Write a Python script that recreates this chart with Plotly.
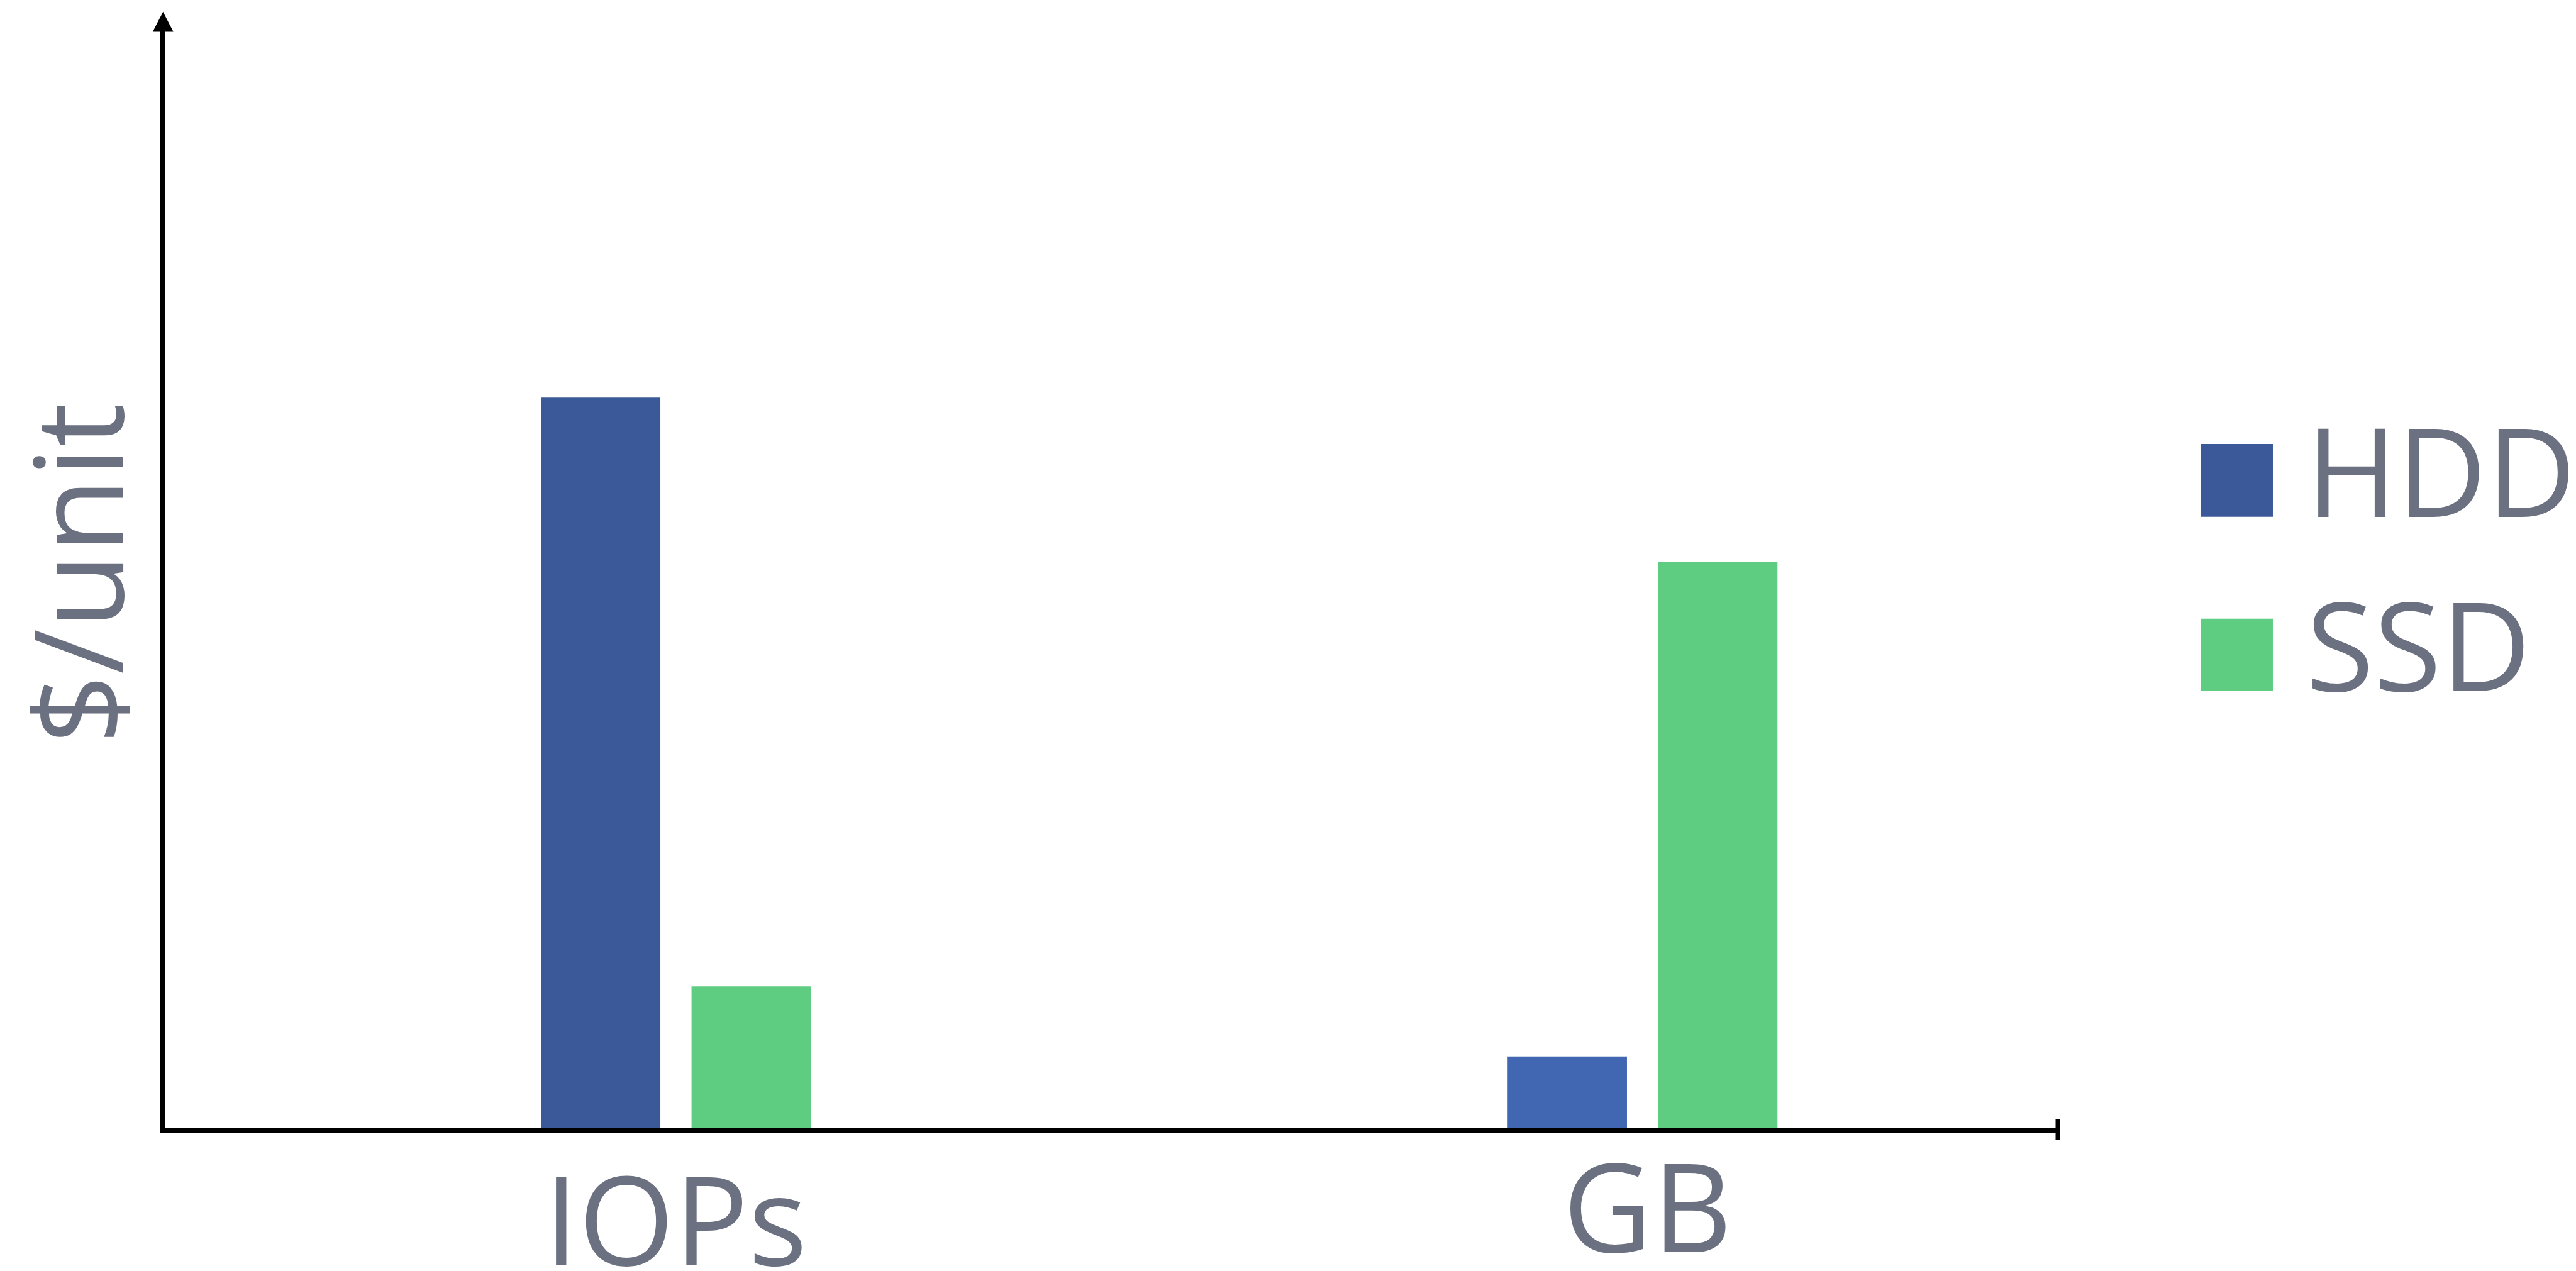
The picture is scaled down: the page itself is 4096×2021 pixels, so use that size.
import plotly.graph_objects as go

# Cost per unit: HDD vs SSD, for IOPs and for capacity (relative units)
categories = ["IOPs", "GB"]
hdd_cost = [66.6, 6.5]
ssd_cost = [12.9, 51.6]
series_names = ["HDD", "SSD"]
hdd_colors = ["#3B5998", "#4267B2"]
ssd_color = "#5ECD81"
y_title = "$/unit"

TEXT_COLOR = "#6B7180"
FONT = "Open Sans"
FONT_SIZE = 196
FONT_WEIGHT = 400

W, H = 4096, 2021
M_L, M_R, M_T, M_B = 262.8, 820, 50, 227.7
PLOT_W = W - M_L - M_R
PLOT_H = H - M_T - M_B
LW = 7.5
MID = 76  # distance from text baseline to the middle of its box


def px(x):
    """Pixel x -> paper x."""
    return (x - M_L) / PLOT_W


def py(y):
    """Pixel y (from top) -> paper y."""
    return (H - M_B - y) / PLOT_H


text_font = dict(family=FONT, size=FONT_SIZE, color=TEXT_COLOR, weight=FONT_WEIGHT)

fig = go.Figure()
fig.add_trace(go.Bar(x=categories, y=hdd_cost, name=series_names[0],
                     marker=dict(color=hdd_colors, line=dict(width=0))))
fig.add_trace(go.Bar(x=categories, y=ssd_cost, name=series_names[1],
                     marker=dict(color=ssd_color, line=dict(width=0))))

shapes = []
# arrow head at the top of the y axis
ax_x = M_L - LW / 2
tip = (ax_x, 18.7)
base_y = 50.5
path = "M {:.5f},{:.5f} L {:.5f},{:.5f} L {:.5f},{:.5f} Z".format(
    px(tip[0]), py(tip[1]),
    px(ax_x - 16.4), py(base_y),
    px(ax_x + 16.4), py(base_y))
shapes.append(dict(type="path", xref="paper", yref="paper", path=path,
                   fillcolor="black", line=dict(width=0), layer="above"))
# end tick at the right of the x axis
end_x = M_L + PLOT_W - LW / 2
shapes.append(dict(type="line", xref="paper", yref="paper",
                   x0=px(end_x), x1=px(end_x), y0=py(1780), y1=py(1813),
                   line=dict(color="black", width=LW), layer="above"))

annotations = []
# rotated y-axis title; its baseline sits left of the axis
annotations.append(dict(text=y_title, xref="paper", yref="paper",
                        x=px(196 - MID), y=py(912), textangle=-90,
                        xanchor="center", yanchor="middle", showarrow=False,
                        font=text_font))

# category labels under the x axis (baseline, horizontal nudge)
label_place = {"IOPs": (2012, 0), "GB": (1991, 8)}
for cat in categories:
    base, dx = label_place[cat]
    annotations.append(dict(text=cat, xref="x", yref="paper", x=cat,
                            y=py(base - MID), xshift=dx,
                            xanchor="center", yanchor="middle", showarrow=False,
                            font=text_font))

# legend swatches and labels
legend_rows = [(series_names[0], hdd_colors[0], 706, 822),
               (series_names[1], ssd_color, 984, 1099)]
for name, color, top, bottom in legend_rows:
    shapes.append(dict(type="rect", xref="paper", yref="paper",
                       x0=px(3499), x1=px(3614), y0=py(bottom), y1=py(top),
                       fillcolor=color, line=dict(width=0), layer="above"))
    annotations.append(dict(text=name, xref="paper", yref="paper",
                            x=px(3665), y=py(bottom - MID),
                            xanchor="left", yanchor="middle", showarrow=False,
                            font=text_font))

fig.update_layout(
    width=W, height=H,
    margin=dict(l=M_L, r=M_R, t=M_T, b=M_B, pad=0, autoexpand=False),
    paper_bgcolor="white", plot_bgcolor="white",
    barmode="group", bargap=0.6886, bargroupgap=0.207,
    showlegend=False,
    shapes=shapes, annotations=annotations,
    font=dict(family=FONT, color=TEXT_COLOR, weight=FONT_WEIGHT),
    xaxis=dict(type="category", range=[-0.5282, 1.4322],
               showline=True, linewidth=LW, linecolor="black",
               showgrid=False, zeroline=False,
               ticks="", showticklabels=False),
    yaxis=dict(range=[0, 100], showline=True, linewidth=LW, linecolor="black",
               showgrid=False, zeroline=False, showticklabels=False, ticks=""),
)

fig.write_html("out.html")
